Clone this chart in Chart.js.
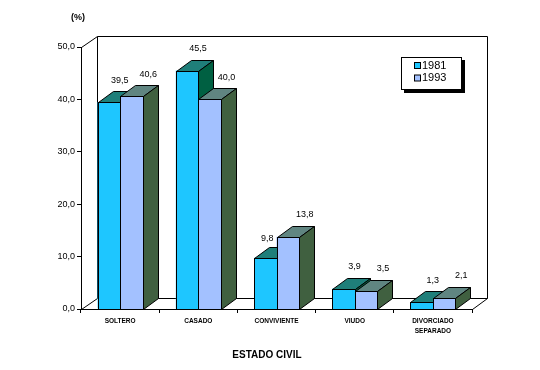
<!DOCTYPE html>
<html>
<head>
<meta charset="utf-8">
<script src="https://cdn.jsdelivr.net/npm/chart.js@4.4.1/dist/chart.umd.min.js"></script>
<style>
  html, body { margin: 0; padding: 0; background: #fff; }
  #wrap { width: 540px; height: 370px; position: relative; }
</style>
</head>
<body>
<div id="wrap"><canvas id="c" width="540" height="370"></canvas></div>
<script>
// ---- data ----
const categories = ['SOLTERO', 'CASADO', 'CONVIVIENTE', 'VIUDO', ['DIVORCIADO', 'SEPARADO']];
const seriesNames = ['1981', '1993'];
const values1981 = [39.5, 45.5, 9.8, 3.9, 1.3];
const values1993 = [40.6, 40.0, 13.8, 3.5, 2.1];
const yTicks = [0, 10, 20, 30, 40, 50];
const yTitle = '(%)';
const xTitle = 'ESTADO CIVIL';

// ---- styles ----
const FONT = 'Arial, "Liberation Sans", sans-serif';
const faceColors = [
  { front: '#1EC6FF', top: '#1F7F7A', side: '#006042' },
  { front: '#A3C1FF', top: '#608581', side: '#406040' }
];
const DX = 15, DY = 11;       // bar depth
const WDX = 16, WDY = 11;     // wall depth
const fmt = v => v.toFixed(1).replace('.', ',');

function poly(ctx, pts, fill) {
  ctx.beginPath();
  ctx.moveTo(pts[0][0], pts[0][1]);
  for (let i = 1; i < pts.length; i++) ctx.lineTo(pts[i][0], pts[i][1]);
  ctx.closePath();
  ctx.fillStyle = fill;
  ctx.fill();
  ctx.stroke();
}

const box3d = {
  id: 'box3d',
  beforeDatasetsDraw(chart) {
    const { ctx, chartArea: a } = chart;
    const L = a.left + 0.5, R = a.right + 0.5, T = a.top + 0.5, B = a.bottom + 0.5;
    ctx.save();
    ctx.strokeStyle = '#000';
    ctx.lineWidth = 1;
    ctx.beginPath();
    ctx.moveTo(L, T); ctx.lineTo(L + WDX, T - WDY);
    ctx.lineTo(R + WDX - 1, T - WDY);
    ctx.lineTo(R + WDX - 1, B - WDY);
    ctx.lineTo(R, B);
    ctx.moveTo(L + WDX, T - WDY); ctx.lineTo(L + WDX, B - WDY);
    ctx.lineTo(R + WDX - 1, B - WDY);
    ctx.moveTo(L, B); ctx.lineTo(L + WDX, B - WDY);
    ctx.stroke();
    ctx.restore();
  },
  afterDatasetsDraw(chart) {
    const { ctx } = chart;
    const n = chart.data.labels.length;
    ctx.save();
    ctx.strokeStyle = '#000';
    ctx.lineWidth = 1;
    ctx.lineJoin = 'miter';
    for (let i = 0; i < n; i++) {
      for (let d = 0; d < chart.data.datasets.length; d++) {
        const el = chart.getDatasetMeta(d).data[i];
        const c = faceColors[d];
        const Lx = Math.round(el.x - el.width / 2) + 0.5;
        const Rx = Math.round(el.x + el.width / 2) + 0.5;
        const Ty = Math.round(el.y) + 0.5;
        const By = Math.round(el.base) + 0.5;
        ctx.fillStyle = c.front;
        ctx.fillRect(Lx, Ty, Rx - Lx, By - Ty);
        ctx.strokeRect(Lx, Ty, Rx - Lx, By - Ty);
        poly(ctx, [[Lx, Ty], [Lx + DX, Ty - DY], [Rx + DX, Ty - DY], [Rx, Ty]], c.top);
        poly(ctx, [[Rx, Ty], [Rx + DX, Ty - DY], [Rx + DX, By - DY], [Rx, By]], c.side);
      }
    }
    // value labels
    ctx.fillStyle = '#000';
    ctx.font = '9px ' + FONT;
    ctx.textAlign = 'center';
    ctx.textBaseline = 'middle';
    const offX = [11, 17];
    const nds = chart.data.datasets.length;
    for (let d = 0; d < nds; d++) {
      const meta = chart.getDatasetMeta(d);
      chart.data.datasets[d].data.forEach((v, i) => {
        const el = meta.data[i];
        const txt = fmt(v);
        const w = ctx.measureText(txt).width;
        let x = el.x + offX[d];
        let y = el.y - 22;
        // keep the label clear of a taller neighbour bar's front face on its right
        if (d < nds - 1) {
          const nb = chart.getDatasetMeta(d + 1).data[i];
          const nbLeft = nb.x - nb.width / 2;
          if (nb.y < y + 5 && x + w / 2 > nbLeft - 2) {
            x = nbLeft - w / 2 - 3;
            y = el.y - 19;
          }
        }
        ctx.fillText(txt, x, y);
      });
    }
    ctx.restore();
  },
  afterDraw(chart) {
    const { ctx } = chart;
    ctx.save();
    ctx.fillStyle = '#000';
    ctx.font = 'bold 9px ' + FONT;
    ctx.textAlign = 'center';
    ctx.textBaseline = 'middle';
    ctx.fillText(yTitle, 78, 17.5);
    ctx.font = 'bold 10px ' + FONT;
    ctx.fillText(xTitle, 267, 355.5);
    // legend
    const lx = 401, ly = 57, lw = 60, lh = 32;
    ctx.fillStyle = '#000';
    ctx.fillRect(lx + 3, ly + 3, lw + 1, lh + 1);
    ctx.fillStyle = '#fff';
    ctx.fillRect(lx, ly, lw, lh);
    ctx.strokeStyle = '#000';
    ctx.lineWidth = 1;
    ctx.strokeRect(lx + 0.5, ly + 0.5, lw, lh);
    ctx.font = '11px ' + FONT;
    ctx.textAlign = 'left';
    chart.data.datasets.forEach((ds, d) => {
      const cy = ly + 8 + d * 12.5;
      ctx.fillStyle = faceColors[d].front;
      ctx.fillRect(414.5, cy - 2.5, 6, 6);
      ctx.strokeStyle = '#000';
      ctx.strokeRect(414.5, cy - 2.5, 6, 6);
      ctx.fillStyle = '#000';
      ctx.fillText(ds.label, 422, cy + 0.5);
    });
    ctx.restore();
  }
};

new Chart(document.getElementById('c'), {
  type: 'bar',
  data: {
    labels: categories,
    datasets: [
      { label: seriesNames[0], data: values1981, backgroundColor: faceColors[0].front, borderWidth: 0 },
      { label: seriesNames[1], data: values1993, backgroundColor: faceColors[1].front, borderWidth: 0 }
    ]
  },
  options: {
    responsive: false,
    animation: false,
    layout: { padding: { top: 47, right: 68, left: 0, bottom: 0 } },
    datasets: { bar: { categoryPercentage: 0.575, barPercentage: 1 } },
    plugins: { legend: { display: false }, tooltip: { enabled: false }, title: { display: false } },
    scales: {
      x: {
        offset: true,
        grid: { drawOnChartArea: false, offset: true, tickLength: 4, color: '#000' },
        border: { color: '#000' },
        ticks: { font: { family: FONT, size: 6.5, weight: 'bold', lineHeight: 1.6 }, color: '#000', padding: 3, maxRotation: 0, autoSkip: false },
        afterFit(s) { s.height = 61; }
      },
      y: {
        min: 0, max: 50,
        afterBuildTicks(s) { s.ticks = yTicks.map(v => ({ value: v })); },
        grid: { drawOnChartArea: false, tickLength: 4, color: '#000' },
        border: { color: '#000' },
        ticks: { font: { family: FONT, size: 9 }, color: '#000', padding: 2, callback: v => fmt(v) },
        afterFit(s) { s.width = 81; }
      }
    }
  },
  plugins: [box3d]
});
</script>
</body>
</html>
